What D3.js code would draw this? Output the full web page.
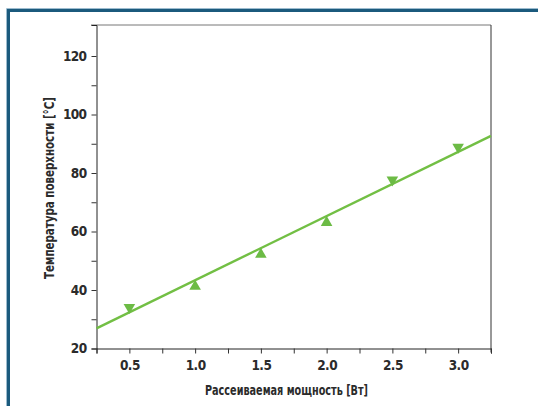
<!DOCTYPE html>
<html><head><meta charset="utf-8">
<script src="https://cdn.jsdelivr.net/npm/d3@7"></script>
<style>
html,body{margin:0;padding:0;background:#fff;}
svg{display:block;}
text{font-family:"DejaVu Sans Condensed","DejaVu Sans",sans-serif;font-stretch:condensed;font-weight:bold;fill:#2b2b2b;}
</style></head>
<body>
<script>
// Data
const powerUp = [1.0, 1.5, 2.0];
const tempUp = [41.6, 52.5, 63.4];
const powerDown = [0.5, 2.5, 3.0];
const tempDown = [33.7, 77.3, 88.5];
const fitPower = [0.25, 3.25];
const fitTemp = [26.9, 92.7];
const xTickLabels = ["0.5", "1.0", "1.5", "2.0", "2.5", "3.0"];
const yTickLabels = ["20", "40", "60", "80", "100", "120"];
const xTitle = "Рассеиваемая мощность [Вт]";
const yTitle = "Температура поверхности [°C]";

const W = 538, H = 406;
const L = 96.5, R = 491, T = 25, B = 348.5;
const svg = d3.select("body").append("svg").attr("width", W).attr("height", H);

// Frame
svg.append("path").attr("d", `M6.5,${H} V8.5 H${W}`).attr("fill","none").attr("stroke","#9dbccf").attr("stroke-width",1);
svg.append("path").attr("d", `M8.5,${H} V10.5 H${W}`).attr("fill","none").attr("stroke","#1b5a7d").attr("stroke-width",3);

const x = d3.scaleLinear().domain([0.25, 3.25]).range([L, R]);
const y = d3.scaleLinear().domain([20, 130.6]).range([B, T]);

// top & right border
svg.append("line").attr("x1", 91).attr("x2", R).attr("y1", T).attr("y2", T).attr("stroke","#777").attr("stroke-width",1);
svg.append("line").attr("x1", R).attr("x2", R).attr("y1", T).attr("y2", B+4).attr("stroke","#333").attr("stroke-width",1);

// axes
const xAxis = d3.axisBottom(x).tickValues(d3.range(0.25, 3.26, 0.25)).tickSize(5)
  .tickFormat(d => { const s = d.toFixed(1); return xTickLabels.includes(s) && Math.abs(d*2 - Math.round(d*2))<1e-9 ? s : ""; });
const gx = svg.append("g").attr("transform", `translate(0,${B})`).call(xAxis);
gx.select(".domain").attr("stroke","#222");
gx.selectAll(".tick line").attr("stroke","#333");
gx.selectAll("text").attr("font-size", 13.5).attr("dy", "1.0em").attr("letter-spacing", "-0.6px");

const yAxis = d3.axisLeft(y).tickValues(d3.range(20, 121, 10)).tickSize(5)
  .tickFormat(d => yTickLabels.includes(String(d)) ? String(d) : "");
const gy = svg.append("g").attr("transform", `translate(${L},0)`).call(yAxis);
gy.select(".domain").attr("stroke","#222");
gy.selectAll(".tick line").attr("stroke","#333");
gy.selectAll("text").attr("font-size", 13.5).attr("dx","-0.15em").attr("letter-spacing", "-0.6px");

// fit line
const line = d3.line().x((d,i)=>x(fitPower[i])).y(d=>y(d));
svg.append("path").datum(fitTemp).attr("d", line).attr("fill","none").attr("stroke","#72bf44").attr("stroke-width",2.4);

// markers
const tri = d3.symbol().type(d3.symbolTriangle).size(58);
svg.selectAll(".up").data(powerUp).enter().append("path")
  .attr("d", tri).attr("fill","#6cbb45")
  .attr("transform",(d,i)=>`translate(${x(d)},${y(tempUp[i])+1})`);
svg.selectAll(".dn").data(powerDown).enter().append("path")
  .attr("d", tri).attr("fill","#6cbb45")
  .attr("transform",(d,i)=>`translate(${x(d)},${y(tempDown[i])-1}) rotate(180)`);

// titles
svg.append("text").attr("x", 286.5).attr("y", 395).attr("text-anchor","middle").attr("font-size",13.5)
  .attr("textLength",163).attr("lengthAdjust","spacingAndGlyphs").text(xTitle);
svg.append("text").attr("transform", `translate(54,${188}) rotate(-90)`).attr("text-anchor","middle").attr("font-size",13.5)
  .attr("textLength",182).attr("lengthAdjust","spacingAndGlyphs").text(yTitle);
</script>
</body></html>
